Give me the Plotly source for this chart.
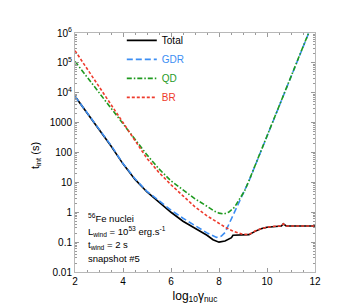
import plotly.graph_objects as go

# ---------------- data (log10 of t_int in seconds) ----------------
total_x = [2.0, 2.5, 3.0, 3.5, 4.0, 4.5, 5.0, 5.5, 6.0, 6.5, 7.0, 7.5, 7.75, 8.0, 8.25,
           8.45, 8.52, 8.58, 8.7, 9.0, 9.25, 9.5, 9.75, 10.0, 10.3, 10.6, 10.68, 10.8, 11.0, 11.5, 12.0]
total_log = [3.88, 3.33, 2.78, 2.22, 1.62, 1.10, 0.68, 0.33, 0.0, -0.30, -0.53, -0.77, -0.92, -1.0, -0.96,
             -0.88, -0.85, -0.77, -0.77, -0.77, -0.75, -0.64, -0.55, -0.50, -0.47, -0.46, -0.39, -0.46, -0.46, -0.46, -0.46]

gdr_x = [2.0, 2.5, 3.0, 3.5, 4.0, 4.5, 5.0, 5.5, 6.0, 6.5, 7.0, 7.5, 7.9, 8.1, 8.25,
         8.5, 8.75, 9.0, 9.25, 9.5, 10.0, 10.5, 11.0, 11.5, 12.0]
gdr_log = [3.88, 3.34, 2.79, 2.24, 1.63, 1.12, 0.70, 0.38, 0.07, -0.20, -0.46, -0.69, -0.84, -0.80, -0.68,
           -0.25, 0.18, 0.60, 1.05, 1.55, 2.55, 3.54, 4.53, 5.52, 6.52]

qd_x = [2.0, 2.5, 3.0, 3.5, 4.0, 4.5, 5.0, 5.5, 6.0, 6.5, 7.0, 7.5, 7.8, 8.0, 8.2,
        8.4, 8.65, 8.86, 9.07, 9.25, 9.5, 10.0, 10.5, 11.0, 11.5, 12.0]
qd_log = [5.05, 4.53, 4.00, 3.47, 2.95, 2.43, 1.92, 1.45, 1.05, 0.75, 0.45, 0.20, 0.04, -0.03, -0.06,
          0.0, 0.17, 0.45, 0.72, 1.06, 1.56, 2.56, 3.55, 4.54, 5.53, 6.53]

br_x = [2.0, 2.5, 3.0, 3.5, 4.0, 4.5, 5.0, 5.5, 6.0, 6.5, 7.0, 7.5, 8.0, 8.3, 8.6,
        8.8, 9.0, 9.25, 9.5, 9.75, 10.0, 10.3, 10.6, 10.68, 10.8, 11.0, 11.5, 12.0]
br_log = [5.41, 4.81, 4.21, 3.60, 3.00, 2.40, 1.80, 1.33, 0.92, 0.55, 0.18, -0.12, -0.38, -0.52, -0.64,
          -0.70, -0.74, -0.745, -0.63, -0.55, -0.50, -0.47, -0.46, -0.39, -0.46, -0.46, -0.46, -0.46]

y_tickvals = [0.01, 0.1, 1, 10, 100, 1000, 1e4, 1e5, 1e6]
y_ticktext = ["0.01", "0.1", "1", "10", "100", "1000", "10<sup>4</sup>", "10<sup>5</sup>", "10<sup>6</sup>"]
x_tickvals = [2, 4, 6, 8, 10, 12]

# ---------------- styles ----------------
BLACK = "#000000"
BLUE = "#3c8ef3"
GREEN = "#1f9a1f"
RED = "#ee3a2c"
FONT = "Liberation Sans, Arial, sans-serif"


def to_lin(vals):
    return [10 ** v for v in vals]


fig = go.Figure()
fig.add_trace(go.Scatter(x=total_x, y=to_lin(total_log), mode="lines", name="Total",
                         line=dict(color=BLACK, width=1.6)))
fig.add_trace(go.Scatter(x=gdr_x, y=to_lin(gdr_log), mode="lines",
                         name=f"<span style='color:{BLUE}'>GDR</span>",
                         line=dict(color=BLUE, width=1.6, dash="6px,3px")))
fig.add_trace(go.Scatter(x=qd_x, y=to_lin(qd_log), mode="lines",
                         name=f"<span style='color:{GREEN}'>QD</span>",
                         line=dict(color=GREEN, width=1.6, dash="5px,2px,1.5px,2px")))
fig.add_trace(go.Scatter(x=br_x, y=to_lin(br_log), mode="lines",
                         name=f"<span style='color:{RED}'>BR</span>",
                         line=dict(color=RED, width=1.6, dash="3px,2px")))

axis_common = dict(
    showgrid=False, zeroline=False, showline=True, linecolor="#b8b8b8", linewidth=1,
    mirror="ticks", ticks="inside", tickcolor="#9a9a9a", ticklen=4,
    tickfont=dict(family=FONT, size=10, color="#000"),
)

fig.update_xaxes(range=[2, 12], tickvals=x_tickvals,
                 minor=dict(ticks="inside", ticklen=2, tickcolor="#9a9a9a", dtick=0.5, tick0=2),
                 title=dict(text="log<sub>10</sub>γ<sub>nuc</sub>",
                            font=dict(family=FONT, size=12, color="#000"), standoff=5),
                 **axis_common)
fig.update_yaxes(type="log", range=[-2, 6], tickmode="array", tickvals=y_tickvals, ticktext=y_ticktext,
                 minor=dict(ticks="inside", ticklen=2, tickcolor="#9a9a9a", dtick="D1"),
                 **axis_common)

# y-axis title placed as a rotated annotation
fig.add_annotation(xref="paper", yref="paper", x=(28 - 67) / 240, y=(264 - 148) / 239,
                   text="t<sub>int</sub> (s)", textangle=-90, showarrow=False,
                   xanchor="center", yanchor="middle",
                   font=dict(family=FONT, size=11, color="#000"))

notes = [
    ("<sup>56</sup>Fe nuclei", 210),
    ("L<sub>wind</sub> = 10<sup>53</sup> erg.s<sup>-1</sup>", 223),
    ("t<sub>wind</sub> = 2 s", 237),
    ("snapshot #5", 250),
]
for txt, ypx in notes:
    fig.add_annotation(xref="paper", yref="paper", x=(78 - 67) / 240, y=(264 - ypx) / 239,
                       text=txt, showarrow=False, xanchor="left", yanchor="middle",
                       font=dict(family=FONT, size=9.5, color="#000"))

fig.update_layout(
    width=353, height=303,
    margin=dict(l=67, r=46, t=25, b=39),
    paper_bgcolor="white", plot_bgcolor="white",
    showlegend=True,
    legend=dict(x=0.195, y=1.03, xanchor="left", yanchor="top", bgcolor="rgba(0,0,0,0)",
                font=dict(family=FONT, size=10, color="#000"), itemwidth=30,
                tracegroupgap=0),
)

fig.write_html("out.html")
